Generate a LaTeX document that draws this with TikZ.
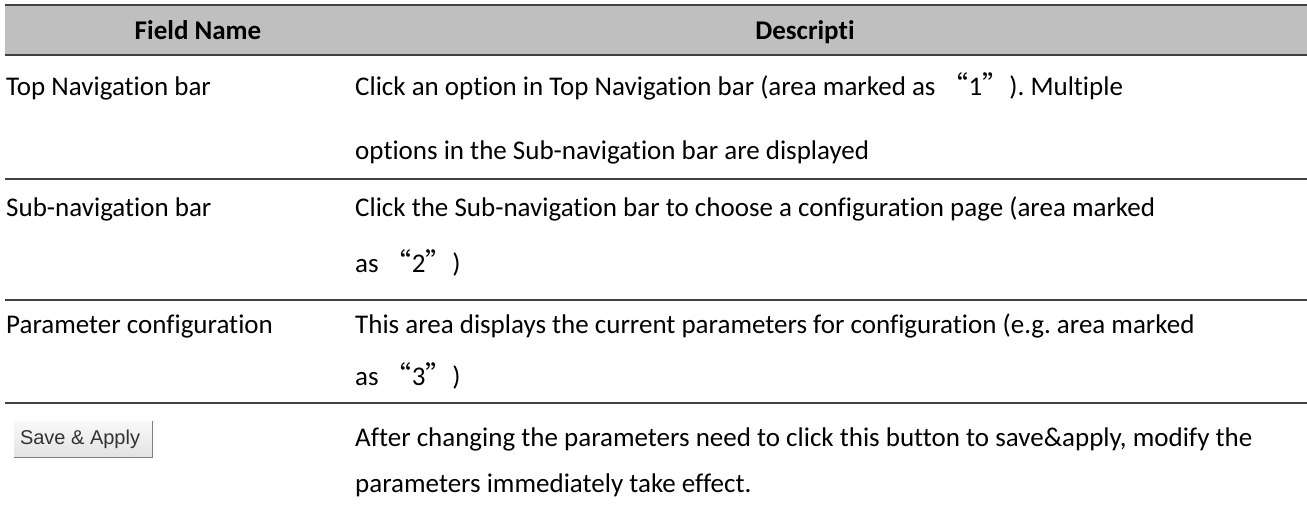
\documentclass[tikz,border=0pt]{standalone}
\usepackage{fontspec}
\setmainfont{Carlito}[Ligatures=NoCommon]
\newfontfamily\cjk{Noto Sans CJK SC}
\newfontfamily\btnfont{Liberation Sans}
\usetikzlibrary{positioning}
\frenchspacing

\definecolor{headgray}{RGB}{191,191,191}
\definecolor{rulegray}{RGB}{64,64,64}

\tikzset{
	cell/.style={anchor=base west, inner sep=0pt, align=left, font=\fontsize{27}{64}\selectfont},
	head/.style={anchor=base, inner sep=0pt, font=\bfseries\fontsize{27}{32}\selectfont},
	rowrule/.style={draw=rulegray, line width=1.5pt},
	btn/.style={inner sep=0pt, minimum width=138pt, minimum height=35pt,
		top color=gray!5, bottom color=gray!22},
	btntext/.style={anchor=west, inner sep=0pt, text=black!80,
		font=\btnfont\fontsize{20}{22}\selectfont},
}
\newcommand{\mk}[1]{{\cjk “}#1{\cjk ”}}

\begin{document}
\begin{tikzpicture}[x=1pt,y=1pt]
	\useasboundingbox (0,0) rectangle (1307,-516);
	% header
	\fill[headgray] (5,-5) rectangle (1307,-55);
	\draw[rowrule] (5,-5) -- (1307,-5);
	\draw[rowrule] (5,-55) -- (1307,-55);
	\node[head] (hname) at (198,-40) {Field Name};
	\node[head] (hdesc) at (805,-40) {Descripti};
	% rows (multi-line cells sit on their last baseline)
	\node[cell] (f1) at (6,-96) {Top Navigation bar};
	\node[cell] (d1) at (355,-160) {Click an option in Top Navigation bar (area marked as \mk{1}). Multiple\\options in the Sub-navigation bar are displayed};
	\draw[rowrule] (5,-179) -- (1307,-179);
	\node[cell] (f2) at (6,-216) {Sub-navigation bar};
	\node[cell, font=\fontsize{27}{56}\selectfont] (d2) at (355,-272) {Click the Sub-navigation bar to choose a configuration page (area marked\\as \mk{2})};
	\draw[rowrule] (5,-300) -- (1307,-300);
	\node[cell] (f3) at (6,-333) {Parameter configuration};
	\node[cell, font=\fontsize{27}{52}\selectfont] (d3) at (355,-385) {This area displays the current parameters for configuration (e.g. area marked\\as \mk{3})};
	\draw[rowrule] (5,-403) -- (1307,-403);
	\node[btn] (save) at (83,-439) {};
	\draw[gray] (save.south west) -- (save.south east) -- (save.north east);
	\node[btntext] (savetxt) at ([xshift=6pt]save.west) {Save \& Apply};
	\node[cell, font=\fontsize{27}{46}\selectfont] (d4) at (355,-492) {After changing the parameters need to click this button to save\&apply, modify the\\parameters immediately take effect.};
\end{tikzpicture}
\end{document}
